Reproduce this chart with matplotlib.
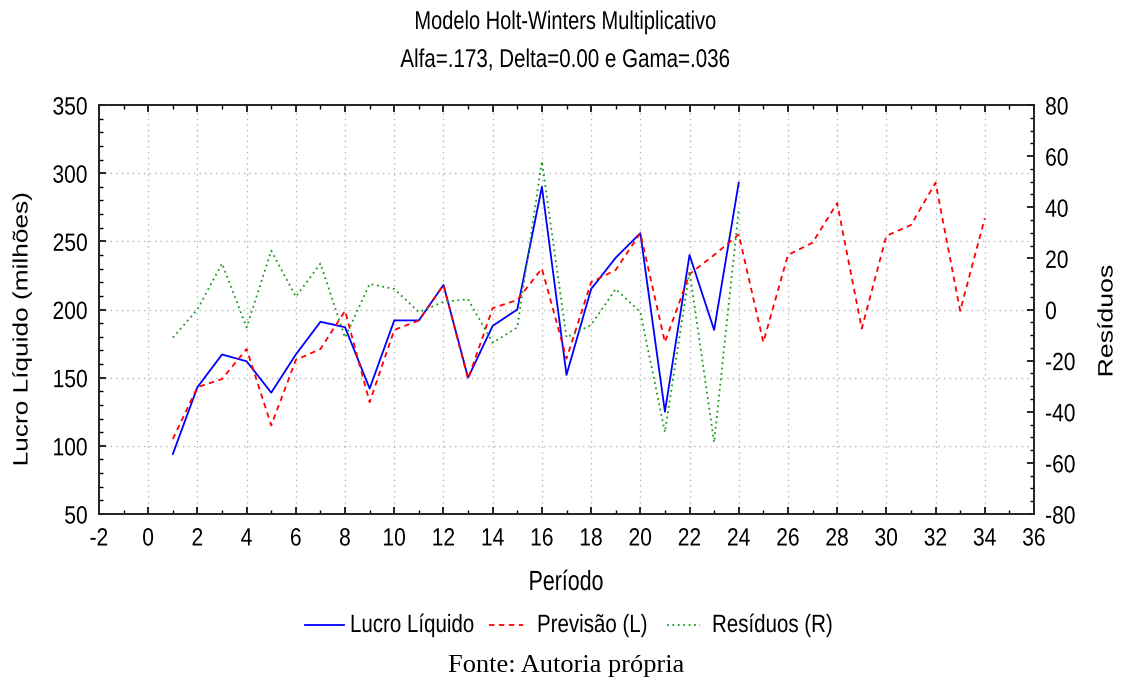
import matplotlib
matplotlib.use("Agg")
import matplotlib.pyplot as plt
from matplotlib.ticker import MultipleLocator
from matplotlib.patheffects import AbstractPathEffect
from matplotlib.transforms import Affine2D
from matplotlib.lines import Line2D

plt.rcParams['axes.unicode_minus'] = False

periodo_obs = list(range(1, 25))
periodo_prev = list(range(1, 35))
lucro = [94, 143, 167, 162, 139, 167, 191, 187, 142, 192, 192, 218, 150, 188, 200,
         290, 152, 215, 238, 256, 125, 240, 185, 293]
previsao = [105, 143, 149, 171, 115, 163, 171, 199, 132, 185, 192, 218, 149, 201, 207,
            230, 164, 220, 229, 256, 176, 226, 240, 255, 176, 240, 249, 278, 186, 254,
            262, 293, 199, 267]
residuos = [-11, 0, 18, -7, 23, 5, 18, -11, 10, 8, -1, 3, 4, -13, -7, 58, -11, -6, 8,
            -1, -48, 15, -52, 39]

SANS = ['Liberation Sans', 'DejaVu Sans']
SERIF = ['Liberation Serif', 'DejaVu Serif']

BLUE, RED, GREEN = '#0000ff', '#ff0000', '#1a9a1a'
LS_BLUE, LS_RED, LS_GREEN = '-', (0, (3, 2.5)), (0, (1, 2))


class Squeeze(AbstractPathEffect):
    """Scale glyphs along the text direction (narrow/wide font look)."""
    def __init__(self, sx=0.82, frac=0.0):
        super().__init__()
        self.sx = sx
        self.frac = frac

    def draw_path(self, renderer, gc, tpath, affine, rgbFace=None):
        ext = tpath.get_extents()
        w = ext.x1
        shift = (1 - self.sx) * w * self.frac
        t = Affine2D().scale(self.sx, 1).translate(shift, 0) + affine
        renderer.draw_path(gc, tpath, t, rgbFace)


fig = plt.figure(figsize=(11.24, 6.84), dpi=100)
ax = fig.add_axes([99/1124, 1-514/684, (1034-99)/1124, (514-105)/684])
ax2 = ax.twinx()

ax.plot(periodo_obs, lucro, color=BLUE, lw=1.3, ls=LS_BLUE)
ax.plot(periodo_prev, previsao, color=RED, lw=1.3, ls=LS_RED)
ax2.plot(periodo_obs, residuos, color=GREEN, lw=1.3, ls=LS_GREEN)

ax.set_xlim(-2, 36)
ax.set_ylim(50, 350)
ax2.set_ylim(-80, 80)
ax.xaxis.set_major_locator(MultipleLocator(2))
ax.xaxis.set_minor_locator(MultipleLocator(1))
ax.yaxis.set_major_locator(MultipleLocator(50))
ax.yaxis.set_minor_locator(MultipleLocator(10))
ax2.yaxis.set_major_locator(MultipleLocator(20))
ax2.yaxis.set_minor_locator(MultipleLocator(5))

ax.grid(True, which='major', color='#b5b5b5', ls=(0, (1, 3)), lw=1.0)
ax.tick_params(axis='both', which='both', direction='in', top=True, labelsize=18, colors='black')
ax.tick_params(axis='y', which='both', right=False, pad=8)
ax.tick_params(which='major', length=5, width=1.2)
ax.tick_params(which='minor', length=3, width=1.0)
ax.tick_params(axis='x', pad=9)
ax2.tick_params(axis='y', which='both', direction='in', labelsize=18, pad=8)
ax2.tick_params(which='major', length=5, width=1.2)
ax2.tick_params(which='minor', length=3, width=1.0)
for lab in ax.get_xticklabels() + ax.get_yticklabels() + ax2.get_yticklabels():
    lab.set_family(SANS)
for a in (ax, ax2):
    for s in a.spines.values():
        s.set_linewidth(1.2)
        s.set_color('#222222')

fig.text(566/1124, 1-22/684, 'Modelo Holt-Winters Multiplicativo', ha='center', va='center',
         fontsize=18.5, family=SANS, path_effects=[Squeeze(0.78, 0.5)])
fig.text(566/1124, 1-60/684, 'Alfa=.173, Delta=0.00 e Gama=.036', ha='center', va='center',
         fontsize=18.5, family=SANS, path_effects=[Squeeze(0.80, 0.5)])
fig.text(22/1124, 1-329/684, 'Lucro Líquido (milhões)', rotation=90, ha='center', va='center',
         fontsize=15, family=SANS, path_effects=[Squeeze(1.26, 0.5)])
fig.text(1107/1124, 1-321/684, 'Resíduos', rotation=90, ha='center', va='center',
         fontsize=15, family=SANS, path_effects=[Squeeze(1.28, 0.5)])
fig.text(566/1124, 1-583/684, 'Período', ha='center', va='center', fontsize=20, family=SANS,
         path_effects=[Squeeze(0.77, 0.5)])

# legend built below the chart
leg_y = 1 - 625/684
legend_items = [(BLUE, LS_BLUE, 'Lucro Líquido', 305, 344, 350),
                (RED, LS_RED, 'Previsão (L)', 489, 523, 537),
                (GREEN, LS_GREEN, 'Resíduos (R)', 667, 700, 712)]
for color, ls, text, x0, x1, xt in legend_items:
    fig.add_artist(Line2D([x0/1124, x1/1124], [leg_y, leg_y], transform=fig.transFigure,
                          color=color, ls=ls, lw=1.3))
    fig.text(xt/1124, leg_y, text, ha='left', va='center', fontsize=18, family=SANS,
             path_effects=[Squeeze(0.82, 0.0)])

fig.text(566/1124, 1-666/684, 'Fonte: Autoria própria', ha='center', va='center',
         fontsize=19, family=SERIF)

fig.canvas.draw()
for lab in ax.yaxis.get_ticklabels():
    lab.set_path_effects([Squeeze(0.84, 1.0)])
for lab in ax.xaxis.get_ticklabels():
    lab.set_path_effects([Squeeze(0.84, 0.5)])
for lab in ax2.yaxis.get_ticklabels():
    lab.set_path_effects([Squeeze(0.84, 0.0)])

fig.savefig('out.png', dpi=100)
